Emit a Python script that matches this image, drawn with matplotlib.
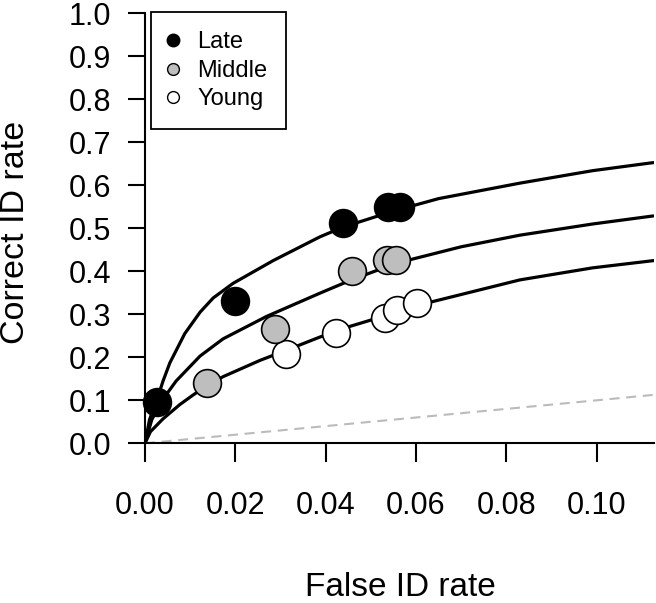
import matplotlib
matplotlib.use('Agg')
import matplotlib.pyplot as plt
from matplotlib.lines import Line2D

plt.rcParams['font.family'] = ['Liberation Sans', 'DejaVu Sans']

# observed (false ID rate, correct ID rate) per group
late_fa = [0.0027, 0.0199, 0.0439, 0.0538, 0.0564]
late_hit = [0.097, 0.332, 0.512, 0.549, 0.549]
mid_fa = [0.0137, 0.0288, 0.0459, 0.0535, 0.0555]
mid_hit = [0.140, 0.266, 0.401, 0.426, 0.426]
young_fa = [0.0312, 0.0423, 0.0532, 0.0557, 0.0602]
young_hit = [0.208, 0.257, 0.291, 0.310, 0.326]

# fitted curves
late_cx = [0, 0.0010, 0.0027, 0.0040, 0.0055, 0.0088, 0.0122, 0.0151, 0.0195,
           0.0284, 0.0387, 0.0439, 0.0550, 0.0650, 0.0830, 0.0991, 0.1127]
late_cy = [0, 0.055, 0.103, 0.145, 0.187, 0.255, 0.305, 0.338, 0.372,
           0.425, 0.480, 0.503, 0.540, 0.569, 0.605, 0.634, 0.653]
mid_cx = [0, 0.0015, 0.0040, 0.0069, 0.0122, 0.0173, 0.0269, 0.0387, 0.0457,
          0.0557, 0.0700, 0.0830, 0.0991, 0.1127]
mid_cy = [0, 0.055, 0.103, 0.145, 0.203, 0.243, 0.295, 0.349, 0.380,
          0.419, 0.457, 0.484, 0.510, 0.529]
young_cx = [0, 0.0012, 0.0040, 0.0077, 0.0106, 0.0137, 0.0173, 0.0255, 0.0312,
            0.0387, 0.0454, 0.0631, 0.0830, 0.0991, 0.1127]
young_cy = [0, 0.027, 0.057, 0.090, 0.112, 0.134, 0.155, 0.193, 0.216,
            0.247, 0.272, 0.328, 0.380, 0.408, 0.425]

# chance line
chance_x = [0, 0.1127]
chance_y = [0, 0.1127]

xticks = [0.00, 0.02, 0.04, 0.06, 0.08, 0.10]
yticks = [0.0, 0.1, 0.2, 0.3, 0.4, 0.5, 0.6, 0.7, 0.8, 0.9, 1.0]

fig = plt.figure(figsize=(6.56, 6.03), dpi=100)
ax = fig.add_axes([145/656, (603-443.3)/603, 509/656, 430/603])

ax.plot(chance_x, chance_y, color='#BBBBBB', ls=(0, (4.8, 3.2)), lw=1.5)
for cx, cy in [(late_cx, late_cy), (mid_cx, mid_cy), (young_cx, young_cy)]:
    ax.plot(cx, cy, color='black', lw=2.3, solid_capstyle='butt',
            solid_joinstyle='round')

ms = 20
ax.plot(young_fa, young_hit, 'o', ms=ms, mfc='white', mec='black', mew=1.2,
        ls='none', clip_on=False)
ax.plot(mid_fa, mid_hit, 'o', ms=ms, mfc='#BEBEBE', mec='black', mew=1.2,
        ls='none', clip_on=False)
ax.plot(late_fa, late_hit, 'o', ms=ms, mfc='black', mec='black', mew=1.2,
        ls='none', clip_on=False)

ax.set_xlim(0, 0.1127)
ax.set_ylim(0, 1)
for s in ['top', 'right']:
    ax.spines[s].set_visible(False)
for s in ['left', 'bottom']:
    ax.spines[s].set_linewidth(1.5)

ax.set_xticks(xticks)
ax.set_xticklabels(['%.2f' % v for v in xticks])
ax.set_yticks(yticks)
ax.set_yticklabels(['%.1f' % v for v in yticks])
ax.tick_params(axis='x', direction='out', length=14, width=1.5,
               labelsize=22, pad=20)
ax.tick_params(axis='y', direction='out', length=12.5, width=1.5,
               labelsize=22, pad=12)

fig.text(400/656, 1 - 587/603, 'False ID rate', fontsize=24,
         ha='center', va='center')
fig.text(16/656, 1 - 232/603, 'Correct ID rate', fontsize=24.5,
         ha='center', va='center', rotation=90)

handles = [
    Line2D([], [], marker='o', ls='none', ms=9, mfc='black', mec='black', mew=1),
    Line2D([], [], marker='o', ls='none', ms=8.5, mfc='#BEBEBE', mec='black', mew=1),
    Line2D([], [], marker='o', ls='none', ms=8.5, mfc='white', mec='black', mew=1),
]
leg = ax.legend(handles, ['Late', 'Middle', 'Young'], loc='upper left',
                bbox_to_anchor=(151/656, 1 - 12.3/603),
                bbox_transform=fig.transFigure, fontsize=17, frameon=True,
                fancybox=False, edgecolor='black', framealpha=1,
                borderaxespad=0, borderpad=0.8, labelspacing=0.28,
                handletextpad=0.85, handlelength=0.3)
leg.get_frame().set_linewidth(1.3)

fig.savefig('out.png', dpi=100)
